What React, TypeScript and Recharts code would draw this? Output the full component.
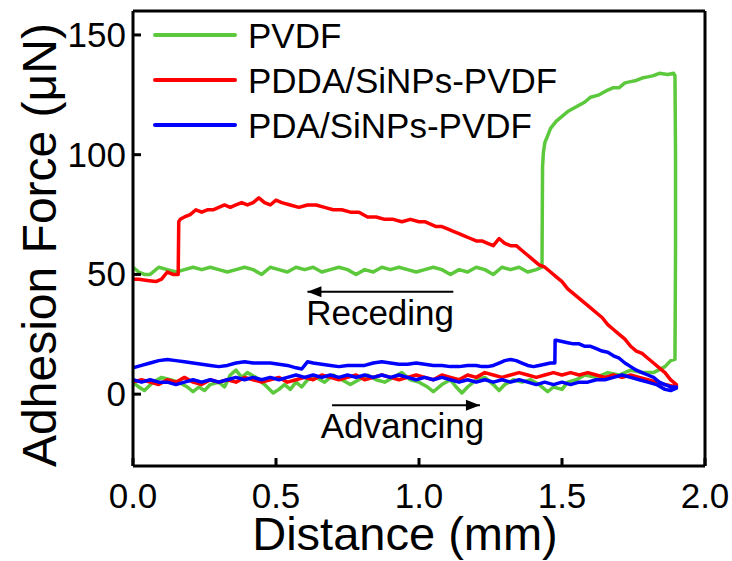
import { LineChart, Line, XAxis, YAxis, ReferenceLine, ReferenceDot, Legend } from "recharts";

type Pt = [number, number];

const FONT = '"Liberation Sans", Arial, sans-serif';

const xTicks = [0, 0.5, 1, 1.5, 2];
const yTicks = [0, 50, 100, 150];

const seriesNames = ["PVDF", "PDDA/SiNPs-PVDF", "PDA/SiNPs-PVDF"];
const seriesColors = ["#5cc83c", "#ff0000", "#0000ff"];

// PVDF: advancing along the bottom, then up the right edge and back along the top
const pvdfAdvancing: Pt[] = [
  [0, 5], [0.02, 3], [0.04, 1.5], [0.07, 5], [0.1, 7], [0.13, 6], [0.16, 5], [0.19, 3], [0.21, 1], [0.23, 3],
  [0.25, 1.5], [0.27, 4], [0.3, 5], [0.32, 3], [0.34, 8], [0.36, 10], [0.38, 7], [0.4, 9], [0.43, 7], [0.46, 4],
  [0.49, 0.5], [0.51, 2], [0.53, 4], [0.55, 2], [0.57, 5], [0.59, 3], [0.61, 6], [0.64, 7], [0.67, 5], [0.7, 8],
  [0.73, 6], [0.76, 4], [0.79, 6], [0.82, 8], [0.85, 6], [0.88, 5], [0.91, 7], [0.94, 9], [0.97, 6], [1.0, 5],
  [1.03, 3], [1.05, 1], [1.08, 4], [1.11, 6], [1.13, 3], [1.15, 0.5], [1.17, 3], [1.2, 6], [1.23, 7], [1.26, 4],
  [1.28, 1.5], [1.3, 4], [1.33, 6], [1.36, 5], [1.39, 6], [1.42, 4], [1.45, 1], [1.47, 3], [1.5, 2], [1.52, 5],
  [1.55, 6], [1.58, 8], [1.62, 7], [1.66, 9], [1.7, 8], [1.74, 10], [1.78, 9], [1.82, 9], [1.86, 11.5], [1.88, 14],
  [1.895, 14.5],
];
const pvdfReceding: Pt[] = [
  [1.897, 60], [1.897, 100], [1.895, 133], [1.89, 134], [1.87, 133.5], [1.84, 134], [1.82, 133], [1.8, 132.5],
  [1.78, 132], [1.76, 131], [1.74, 130.5], [1.72, 130], [1.7, 128], [1.68, 128], [1.66, 127], [1.63, 125],
  [1.6, 124], [1.58, 122], [1.55, 120], [1.52, 118], [1.5, 116], [1.48, 114], [1.46, 111], [1.45, 108],
  [1.44, 105], [1.435, 101], [1.432, 95], [1.43, 53], [1.41, 52], [1.38, 51], [1.35, 53], [1.32, 52], [1.29, 53],
  [1.26, 50], [1.23, 52], [1.2, 53], [1.17, 51], [1.14, 52], [1.11, 50], [1.08, 52], [1.05, 53], [1.02, 52],
  [0.99, 51], [0.96, 52], [0.93, 53], [0.9, 52], [0.87, 53], [0.84, 51], [0.81, 52], [0.78, 50], [0.75, 52],
  [0.72, 53], [0.69, 52], [0.66, 51], [0.63, 53], [0.6, 52], [0.57, 53], [0.54, 51], [0.51, 52], [0.48, 53],
  [0.45, 50], [0.42, 52], [0.39, 53], [0.36, 52], [0.33, 51], [0.3, 52], [0.27, 53], [0.24, 52], [0.21, 53],
  [0.18, 52], [0.15, 51], [0.12, 52], [0.09, 53], [0.06, 50], [0.04, 50], [0.02, 51], [0, 53],
];

// PDDA/SiNPs-PVDF
const pddaAdvancing: Pt[] = [
  [0, 5], [0.03, 6], [0.06, 5], [0.09, 4], [0.12, 6], [0.15, 5], [0.18, 7], [0.21, 5], [0.24, 4], [0.27, 6],
  [0.3, 5], [0.33, 6], [0.36, 5], [0.39, 7], [0.42, 6], [0.45, 5], [0.48, 6], [0.51, 7], [0.54, 5], [0.57, 6],
  [0.6, 7], [0.63, 6], [0.66, 8], [0.69, 7], [0.72, 6], [0.75, 7], [0.78, 8], [0.81, 6], [0.84, 7], [0.87, 8],
  [0.9, 7], [0.93, 6], [0.96, 7], [0.99, 8], [1.02, 7], [1.05, 6], [1.08, 8], [1.11, 7], [1.14, 6], [1.17, 8],
  [1.2, 7], [1.23, 9], [1.26, 8], [1.29, 7], [1.32, 8], [1.35, 9], [1.38, 8], [1.41, 7], [1.44, 8], [1.47, 9],
  [1.5, 8], [1.53, 9], [1.56, 8], [1.59, 9], [1.62, 8], [1.65, 7], [1.68, 8], [1.71, 7], [1.74, 8], [1.77, 7],
  [1.8, 6], [1.83, 5], [1.86, 4], [1.88, 3.5], [1.9, 3],
];
const pddaReceding: Pt[] = [
  [1.9, 4], [1.88, 6], [1.86, 9], [1.84, 11], [1.82, 13], [1.8, 15], [1.78, 17], [1.76, 18], [1.74, 20],
  [1.72, 23], [1.7, 25], [1.68, 27], [1.66, 29], [1.64, 32], [1.62, 34], [1.6, 36], [1.58, 38], [1.56, 40],
  [1.54, 42], [1.52, 44], [1.5, 47], [1.48, 49], [1.46, 51], [1.44, 53], [1.42, 54], [1.4, 56], [1.38, 58],
  [1.36, 60], [1.34, 62], [1.32, 62], [1.3, 63], [1.28, 65], [1.26, 62], [1.24, 63], [1.22, 64], [1.2, 64],
  [1.18, 65], [1.16, 66], [1.14, 67], [1.12, 68], [1.1, 69], [1.08, 70], [1.06, 70], [1.04, 71], [1.02, 72],
  [1.0, 72], [0.97, 73], [0.94, 72], [0.91, 73], [0.88, 73], [0.85, 74], [0.82, 74], [0.79, 76], [0.76, 76],
  [0.73, 77], [0.7, 77], [0.67, 78], [0.64, 79], [0.61, 79], [0.58, 78], [0.55, 79], [0.52, 80], [0.5, 81],
  [0.48, 79], [0.46, 80], [0.44, 82], [0.42, 80], [0.4, 79], [0.38, 80], [0.36, 79], [0.34, 78], [0.32, 79],
  [0.3, 78], [0.28, 77], [0.26, 77], [0.24, 76], [0.22, 77], [0.2, 75], [0.18, 74], [0.165, 73], [0.16, 72],
  [0.158, 50], [0.14, 50], [0.12, 51], [0.1, 48], [0.08, 47], [0.05, 47.5], [0.02, 48], [0, 48],
];

// PDA/SiNPs-PVDF
const pdaAdvancing: Pt[] = [
  [0, 6], [0.03, 5], [0.06, 6], [0.09, 5], [0.12, 5], [0.15, 4], [0.18, 5], [0.21, 6], [0.24, 5], [0.27, 6],
  [0.3, 5], [0.33, 6], [0.36, 7], [0.39, 6], [0.42, 7], [0.45, 6], [0.48, 7], [0.51, 6], [0.54, 7], [0.57, 8],
  [0.6, 7], [0.63, 8], [0.66, 7], [0.69, 8], [0.72, 7], [0.75, 8], [0.78, 7], [0.81, 8], [0.84, 7], [0.87, 8],
  [0.9, 7], [0.93, 8], [0.96, 7], [0.99, 6], [1.02, 7], [1.05, 6], [1.08, 7], [1.11, 6], [1.14, 5], [1.17, 6],
  [1.2, 5], [1.23, 6], [1.26, 5], [1.29, 6], [1.32, 5], [1.35, 6], [1.38, 5], [1.41, 4], [1.44, 5], [1.47, 4],
  [1.5, 5], [1.53, 4], [1.56, 5], [1.59, 5], [1.62, 6], [1.65, 6], [1.68, 7], [1.71, 8], [1.74, 7], [1.77, 6],
  [1.8, 5], [1.83, 4], [1.86, 2], [1.88, 1.5], [1.9, 2.5],
];
const pdaReceding: Pt[] = [
  [1.9, 3], [1.88, 3], [1.86, 4], [1.84, 5], [1.82, 7], [1.8, 8], [1.78, 9], [1.76, 10], [1.74, 11.5], [1.72, 13],
  [1.7, 15], [1.68, 16], [1.66, 17.5], [1.64, 18], [1.62, 19], [1.6, 20], [1.58, 20], [1.56, 21], [1.54, 21],
  [1.52, 21.5], [1.5, 22], [1.48, 22.5], [1.476, 22.5], [1.475, 13], [1.46, 13], [1.44, 12.5], [1.42, 12],
  [1.4, 11.5], [1.38, 12], [1.36, 13], [1.34, 14], [1.32, 14.5], [1.3, 14], [1.28, 13], [1.26, 12], [1.24, 11.5],
  [1.22, 11.5], [1.2, 12], [1.17, 12], [1.14, 11.5], [1.11, 11.5], [1.08, 12], [1.05, 12], [1.02, 12.5],
  [0.99, 13], [0.96, 12.5], [0.93, 12.5], [0.9, 13], [0.87, 13.5], [0.84, 13], [0.81, 12], [0.78, 12], [0.75, 12],
  [0.72, 11.5], [0.69, 12], [0.66, 12.5], [0.63, 13], [0.61, 13.5], [0.59, 10.5], [0.57, 11], [0.54, 12],
  [0.51, 12.5], [0.48, 13], [0.45, 13], [0.42, 13], [0.39, 13.5], [0.36, 13], [0.33, 12], [0.3, 11.5], [0.27, 12],
  [0.24, 12.5], [0.21, 13], [0.18, 13.5], [0.15, 14], [0.12, 14.5], [0.09, 14], [0.06, 13], [0.03, 12], [0, 11],
];

// annotation arrows: [start, end] in data units, arrow tip at the first point
const recedingArrow: Pt[] = [[0.61, 42.8], [1.12, 42.8]];
const advancingArrow: Pt[] = [[1.213, -4.6], [0.696, -4.6]];
const recedingLabel: Pt = [0.864, 29];
const advancingLabel: Pt = [0.942, -18.3];

const toRows = (pts: Pt[]) => pts.map(([x, y]) => ({ x, y }));
const paths = [
  toRows([...pvdfAdvancing, ...pvdfReceding]),
  toRows([...pddaAdvancing, ...pddaReceding]),
  toRows([...pdaAdvancing, ...pdaReceding]),
];

function XTick({ x, y, payload }: any) {
  return (
    <g>
      <line x1={x} y1={y} x2={x} y2={y - 8} stroke="#000" strokeWidth={3} />
      <text x={x} y={y + 42} textAnchor="middle" fontSize={35} fontFamily={FONT} fill="#000">
        {Number(payload.value).toFixed(1)}
      </text>
    </g>
  );
}

function YTick({ x, y, payload }: any) {
  return (
    <g>
      <line x1={x} y1={y} x2={x + 8} y2={y} stroke="#000" strokeWidth={3} />
      <text x={x - 7} y={y + 12} textAnchor="end" fontSize={35} fontFamily={FONT} fill="#000">
        {payload.value}
      </text>
    </g>
  );
}

function Arrowhead({ cx, cy, dir }: any) {
  const d = dir < 0 ? `M${cx},${cy} l14,-5.5 l0,11 z` : `M${cx},${cy} l-14,-5.5 l0,11 z`;
  return <path d={d} fill="#000" />;
}

function Note({ cx, cy, text }: any) {
  return (
    <text x={cx} y={cy} textAnchor="middle" fontSize={35} fontFamily={FONT} fill="#000">
      {text}
    </text>
  );
}

function LegendBox() {
  return (
    <div style={{ position: "relative", width: 600, height: 150, fontFamily: FONT }}>
      {seriesNames.map((name, i) => (
        <div key={name}>
          <div
            style={{
              position: "absolute", left: 153, top: 35 + i * 45 - 2, width: 84, height: 4,
              borderRadius: 2, background: seriesColors[i],
            }}
          />
          <div
            style={{
              position: "absolute", left: 248, top: 35 + i * 45 - 17, fontSize: 35, lineHeight: 1,
              color: "#000", whiteSpace: "nowrap",
            }}
          >
            {name}
          </div>
        </div>
      ))}
    </div>
  );
}

export default function App() {
  return (
    <div style={{ position: "absolute", left: 0, top: 0, width: 732, height: 561, background: "#fff" }}>
      <LineChart width={732} height={561} margin={{ top: 11, right: 27, bottom: 0, left: 0 }}>
        <XAxis
          dataKey="x" type="number" domain={[0, 2]} ticks={xTicks} interval={0} height={95}
          allowDataOverflow tickSize={0} tickMargin={0} tick={<XTick />}
          axisLine={{ stroke: "#000", strokeWidth: 3 }} tickLine={false}
          label={{
            value: "Distance (mm)",
            content: () => (
              <text x={405} y={550} textAnchor="middle" fontSize={47} fontFamily={FONT} fill="#000">
                Distance (mm)
              </text>
            ),
          }}
        />
        <YAxis
          dataKey="y" type="number" domain={[-30, 160]} ticks={yTicks} interval={0} width={133}
          allowDataOverflow tickSize={0} tickMargin={0} tick={<YTick />}
          axisLine={{ stroke: "#000", strokeWidth: 3 }} tickLine={false}
          label={{
            value: "Adhesion Force (μN)",
            content: () => (
              <text x={56} y={245} transform="rotate(-90, 56, 245)" textAnchor="middle" fontSize={48} fontFamily={FONT} fill="#000">
                Adhesion Force (μN)
              </text>
            ),
          }}
        />
        <ReferenceLine x={2} stroke="#000" strokeWidth={3} />
        <ReferenceLine y={160} stroke="#000" strokeWidth={3} />
        <ReferenceLine
          segment={recedingArrow.map(([x, y]) => ({ x, y }))}
          stroke="#000" strokeWidth={2}
        />
        <ReferenceLine
          segment={advancingArrow.map(([x, y]) => ({ x, y }))}
          stroke="#000" strokeWidth={2}
        />
        <ReferenceDot x={recedingArrow[0][0]} y={recedingArrow[0][1]} shape={(p: any) => <Arrowhead {...p} dir={-1} />} />
        <ReferenceDot x={advancingArrow[0][0]} y={advancingArrow[0][1]} shape={(p: any) => <Arrowhead {...p} dir={1} />} />
        <ReferenceDot x={recedingLabel[0]} y={recedingLabel[1]} shape={(p: any) => <Note {...p} text="Receding" />} />
        <ReferenceDot x={advancingLabel[0]} y={advancingLabel[1]} shape={(p: any) => <Note {...p} text="Advancing" />} />
        {paths.map((rows, i) => (
          <Line
            key={seriesNames[i]} name={seriesNames[i]} data={rows} dataKey="y" type="linear"
            stroke={seriesColors[i]} strokeWidth={3.5} strokeLinejoin="round" dot={false}
            activeDot={false} isAnimationActive={false}
          />
        ))}
        <Legend
          layout="vertical" align="center" verticalAlign="middle" content={<LegendBox />}
          wrapperStyle={{ position: "absolute", left: 0, top: 0, width: 600, height: 150 }}
        />
      </LineChart>
    </div>
  );
}
